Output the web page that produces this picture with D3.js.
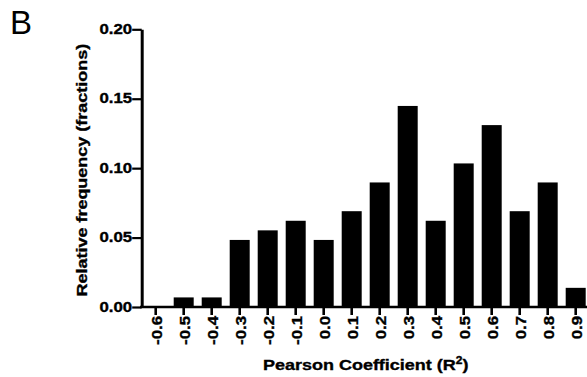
<!DOCTYPE html>
<html>
<head>
<meta charset="utf-8">
<script src="https://cdn.jsdelivr.net/npm/d3@7/dist/d3.min.js"></script>
<style>
  html, body { margin: 0; padding: 0; background: #fff; }
  svg { display: block; }
  text { font-family: "Liberation Sans", Arial, Helvetica, sans-serif; fill: #000; }
  text.heavy { stroke: #000; stroke-width: 0.35px; }
</style>
</head>
<body>
<svg id="chart" width="587" height="377"></svg>
<script>
// Pearson coefficient bins and their relative frequencies
const categories = ["-0.6", "-0.5", "-0.4", "-0.3", "-0.2", "-0.1", "0.0", "0.1",
                    "0.2", "0.3", "0.4", "0.5", "0.6", "0.7", "0.8", "0.9"];
const frequencies = [0.0000, 0.0069, 0.0069, 0.0483, 0.0552, 0.0621, 0.0483, 0.0690,
                     0.0897, 0.1448, 0.0621, 0.1034, 0.1310, 0.0690, 0.0897, 0.0138];
const yTicks = [0, 0.05, 0.10, 0.15, 0.20];

const svg = d3.select("#chart");
const stretch = 1.2; // wide lettering along the writing direction

const x = d3.scaleBand()
  .domain(categories)
  .range([141.7, 589.7])
  .paddingInner(0.2857)
  .paddingOuter(0.143);

const y = d3.scaleLinear()
  .domain([0, 0.2])
  .range([307, 29.3]);

// Bars
svg.append("g")
  .selectAll("rect")
  .data(categories.map((c, i) => ({ c, v: frequencies[i] })))
  .join("rect")
  .attr("x", d => x(d.c))
  .attr("width", x.bandwidth())
  .attr("y", d => y(d.v))
  .attr("height", d => y(0) - y(d.v))
  .attr("fill", "#000");

// X axis
const xAxis = svg.append("g")
  .attr("transform", `translate(0,${y(0)})`)
  .call(d3.axisBottom(x).tickSize(8).tickSizeOuter(0));
xAxis.select(".domain").attr("stroke", "#000").attr("stroke-width", 2.6)
  .attr("d", `M140,0H${x.range()[1]}`);
xAxis.selectAll(".tick line").attr("stroke", "#000").attr("stroke-width", 2.6);
xAxis.selectAll(".tick text")
  .attr("class", "heavy")
  .attr("x", 0).attr("y", 0)
  .attr("dy", "0.45em")
  .attr("transform", `translate(0,9) rotate(-90) scale(${stretch},1)`)
  .style("text-anchor", "end")
  .style("font-size", "14px")
  .style("font-weight", "bold");

// Y axis
const yAxis = svg.append("g")
  .attr("transform", `translate(${x.range()[0]},0)`)
  .call(d3.axisLeft(y).tickValues(yTicks).tickSize(9.5).tickSizeOuter(0)
    .tickFormat(d3.format(".2f")));
yAxis.select(".domain").attr("stroke", "#000").attr("stroke-width", 3);
yAxis.selectAll(".tick line").attr("stroke", "#000").attr("stroke-width", 2.2);
yAxis.selectAll(".tick text")
  .attr("class", "heavy")
  .attr("x", 0)
  .attr("dy", "0.3em")
  .attr("transform", `translate(-9.5,0) scale(${stretch},1)`)
  .style("text-anchor", "end")
  .style("font-size", "14px")
  .style("font-weight", "bold");

// Axis titles
const xMid = (x.range()[0] + x.range()[1]) / 2;
const xTitle = svg.append("text")
  .attr("class", "heavy")
  .attr("transform", `translate(${xMid},369.5) scale(${stretch},1)`)
  .style("text-anchor", "middle")
  .style("font-size", "15px")
  .style("font-weight", "bold");
xTitle.append("tspan").text("Pearson Coefficient (R");
xTitle.append("tspan").attr("dy", -6).style("font-size", "10px").text("2");
xTitle.append("tspan").attr("dy", 6).text(")");

const yMid = (y.range()[0] + y.range()[1]) / 2;
svg.append("text")
  .attr("class", "heavy")
  .attr("transform", `translate(86.5,${yMid + 2}) rotate(-90) scale(${stretch},1)`)
  .style("text-anchor", "middle")
  .style("font-size", "15px")
  .style("font-weight", "bold")
  .text("Relative frequency (fractions)");

// Panel letter
svg.append("text")
  .attr("x", 10).attr("y", 34.3)
  .style("font-size", "33px")
  .text("B");
</script>
</body>
</html>
